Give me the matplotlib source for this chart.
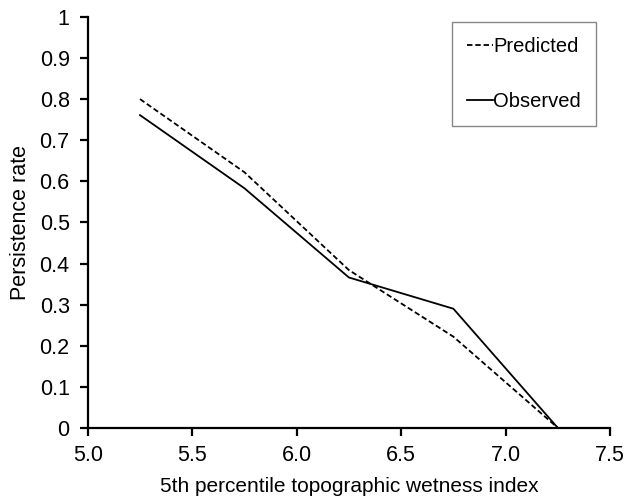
import matplotlib.pyplot as plt

plt.rcParams['font.family'] = ['Liberation Sans', 'DejaVu Sans']

x_vals = [5.25, 5.75, 6.25, 6.75, 7.25]
predicted = [0.80, 0.622, 0.384, 0.222, 0.0]
observed = [0.761, 0.583, 0.366, 0.290, 0.0]

x_ticks = [5.0, 5.5, 6.0, 6.5, 7.0, 7.5]
y_ticks = [0, 0.1, 0.2, 0.3, 0.4, 0.5, 0.6, 0.7, 0.8, 0.9, 1]
y_labels = ['0', '0.1', '0.2', '0.3', '0.4', '0.5', '0.6', '0.7', '0.8', '0.9', '1']

fig = plt.figure(figsize=(6.27, 4.97), dpi=100)
ax = fig.add_axes([0.140, 0.139, 0.833, 0.827])

ax.plot(x_vals, predicted, color='black', linestyle=(0, (3, 1.6)), linewidth=1.3, label='Predicted')
ax.plot(x_vals, observed, color='black', linestyle='-', linewidth=1.3, label='Observed')

ax.set_xlim(5.0, 7.5)
ax.set_ylim(0, 1)
ax.set_xticks(x_ticks)
ax.set_xticklabels([f'{v:.1f}' for v in x_ticks])
ax.set_yticks(y_ticks)
ax.set_yticklabels(y_labels)

for side in ['top', 'right']:
    ax.spines[side].set_visible(False)
for side in ['left', 'bottom']:
    ax.spines[side].set_linewidth(1.6)
ax.tick_params(direction='out', length=6, width=1.6, labelsize=15.5, colors='black')
ax.tick_params(axis='y', pad=7)
ax.tick_params(axis='x', pad=6)

ax.set_xlabel('5th percentile topographic wetness index', fontsize=15, labelpad=8)
ax.set_ylabel('Persistence rate', fontsize=15.5, labelpad=6)

leg = ax.legend(loc='upper right', bbox_to_anchor=(0.973, 0.988), fontsize=14.5,
                handlelength=1.3, handletextpad=0.0, labelspacing=1.8,
                borderpad=0.75, borderaxespad=0, fancybox=False, framealpha=1)
leg.get_frame().set_edgecolor('#888888')
leg.get_frame().set_linewidth(1.0)

fig.savefig('out.png', dpi=100)
